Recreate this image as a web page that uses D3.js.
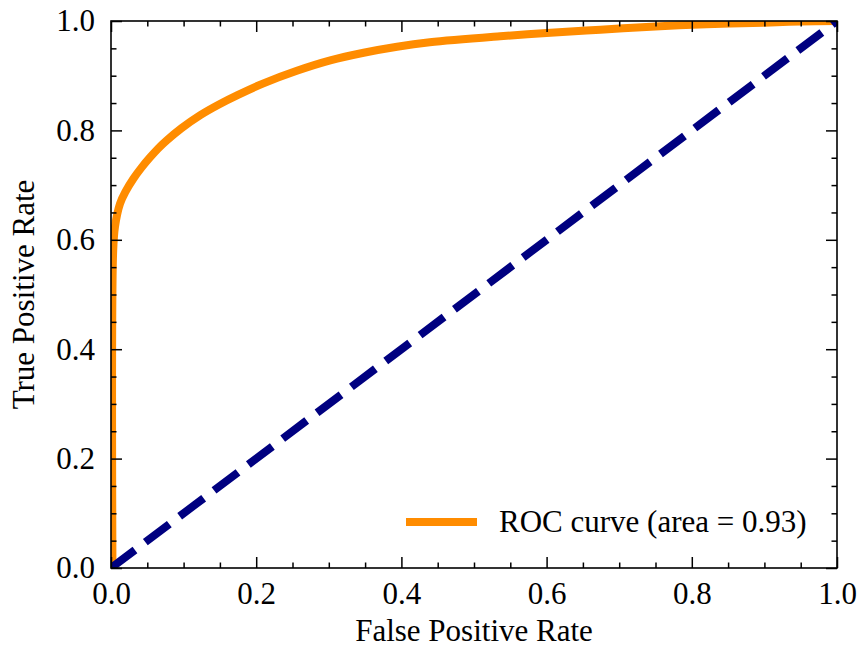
<!DOCTYPE html>
<html>
<head>
<meta charset="utf-8">
<script src="https://cdn.jsdelivr.net/npm/d3@7"></script>
<style>
  body { margin: 0; background: #fff; }
  svg text { font-family: "Liberation Serif", "Times New Roman", serif; fill: #000; }
</style>
</head>
<body>
<div id="chart"></div>
<script>
// ROC data
var fpr = [0.002, 0.003, 0.0055, 0.0124, 0.02, 0.031, 0.042, 0.054, 0.065, 0.077, 0.097,
           0.123, 0.148, 0.175, 0.21, 0.256, 0.302, 0.348, 0.394, 0.439, 0.536, 0.60,
           0.674, 0.75, 0.82, 0.90, 0.95, 1.0];
var tpr = [0, 0.58, 0.624, 0.666, 0.688, 0.712, 0.732, 0.751, 0.767, 0.782, 0.804,
           0.828, 0.847, 0.865, 0.886, 0.909, 0.928, 0.942, 0.953, 0.961, 0.972, 0.978,
           0.984, 0.990, 0.994, 0.997, 0.999, 1.0];
var chanceX = [0, 1];
var chanceY = [0, 1];

var majorTicks = [0, 0.2, 0.4, 0.6, 0.8, 1.0];
var minorTicks = d3.range(0, 1.0001, 0.05).filter(function(v){ return Math.abs(v*5 - Math.round(v*5)) > 1e-6; });

var legendLabel = 'ROC curve (area = 0.93)';
var xLabel = 'False Positive Rate';
var yLabel = 'True Positive Rate';

var W = 859, H = 649;
var margin = {top: 21, right: 22, bottom: 81, left: 111};
var width = W - margin.left - margin.right,
    height = H - margin.top - margin.bottom;
var FS = '31px';

var svg = d3.select('#chart').append('svg')
    .attr('width', W).attr('height', H);

var g = svg.append('g')
    .attr('transform', 'translate(' + margin.left + ',' + margin.top + ')');

var x = d3.scaleLinear().domain([0, 1]).range([0, width]);
var y = d3.scaleLinear().domain([0, 1]).range([height, 0]);

// clip lines to the axes box
g.append('clipPath').attr('id', 'clip')
  .append('rect').attr('width', width).attr('height', height);

var line = d3.line()
    .x(function(d){ return x(d[0]); })
    .y(function(d){ return y(d[1]); });

var plot = g.append('g').attr('clip-path', 'url(#clip)');

plot.append('path')
    .datum(fpr.map(function(v, i){ return [v, tpr[i]]; }))
    .attr('d', line.curve(d3.curveCatmullRom.alpha(0.5)))
    .attr('fill', 'none')
    .attr('stroke', '#ff8c00')
    .attr('stroke-width', 8)
    .attr('stroke-linejoin', 'round');

plot.append('path')
    .datum(chanceX.map(function(v, i){ return [v, chanceY[i]]; }))
    .attr('d', line.curve(d3.curveLinear))
    .attr('fill', 'none')
    .attr('stroke', '#000080')
    .attr('stroke-width', 8)
    .attr('stroke-dasharray', '30,13');

// axes: inward ticks on all four sides
var fmt = d3.format('.1f');
var MAJ = 11, MIN = 5.5;

function styleAxis(sel){
  sel.select('.domain').remove();
  sel.selectAll('line').attr('stroke', '#000').attr('stroke-width', 1.5);
  sel.selectAll('text').style('font-size', FS);
}

g.append('g').attr('transform', 'translate(0,' + height + ')')
  .call(d3.axisBottom(x).tickValues(majorTicks).tickFormat(fmt).tickSize(-MAJ).tickPadding(14))
  .call(styleAxis);
g.append('g').attr('transform', 'translate(0,' + height + ')')
  .call(d3.axisBottom(x).tickValues(minorTicks).tickFormat('').tickSize(-MIN))
  .call(styleAxis);
g.append('g')
  .call(d3.axisTop(x).tickValues(majorTicks).tickFormat('').tickSize(-MAJ))
  .call(styleAxis);
g.append('g')
  .call(d3.axisTop(x).tickValues(minorTicks).tickFormat('').tickSize(-MIN))
  .call(styleAxis);

g.append('g')
  .call(d3.axisLeft(y).tickValues(majorTicks).tickFormat(fmt).tickSize(-MAJ).tickPadding(16))
  .call(styleAxis);
g.append('g')
  .call(d3.axisLeft(y).tickValues(minorTicks).tickFormat('').tickSize(-MIN))
  .call(styleAxis);
g.append('g').attr('transform', 'translate(' + width + ',0)')
  .call(d3.axisRight(y).tickValues(majorTicks).tickFormat('').tickSize(-MAJ))
  .call(styleAxis);
g.append('g').attr('transform', 'translate(' + width + ',0)')
  .call(d3.axisRight(y).tickValues(minorTicks).tickFormat('').tickSize(-MIN))
  .call(styleAxis);

// frame
g.append('rect')
    .attr('width', width).attr('height', height)
    .attr('fill', 'none').attr('stroke', '#000').attr('stroke-width', 1.6);

// axis labels
svg.append('text')
    .attr('x', margin.left + width / 2).attr('y', 641)
    .attr('text-anchor', 'middle')
    .style('font-size', FS)
    .text(xLabel);

svg.append('text')
    .attr('transform', 'translate(34,' + (margin.top + height / 2) + ') rotate(-90)')
    .attr('text-anchor', 'middle')
    .style('font-size', FS)
    .text(yLabel);

// legend
var leg = g.append('g').attr('transform', 'translate(' + (406 - margin.left) + ',' + (522 - margin.top) + ')');
leg.append('line')
    .attr('x1', 0).attr('x2', 71).attr('y1', 0).attr('y2', 0)
    .attr('stroke', '#ff8c00').attr('stroke-width', 8);
leg.append('text')
    .attr('x', 93).attr('y', 10)
    .style('font-size', FS)
    .text(legendLabel);
</script>
</body>
</html>
